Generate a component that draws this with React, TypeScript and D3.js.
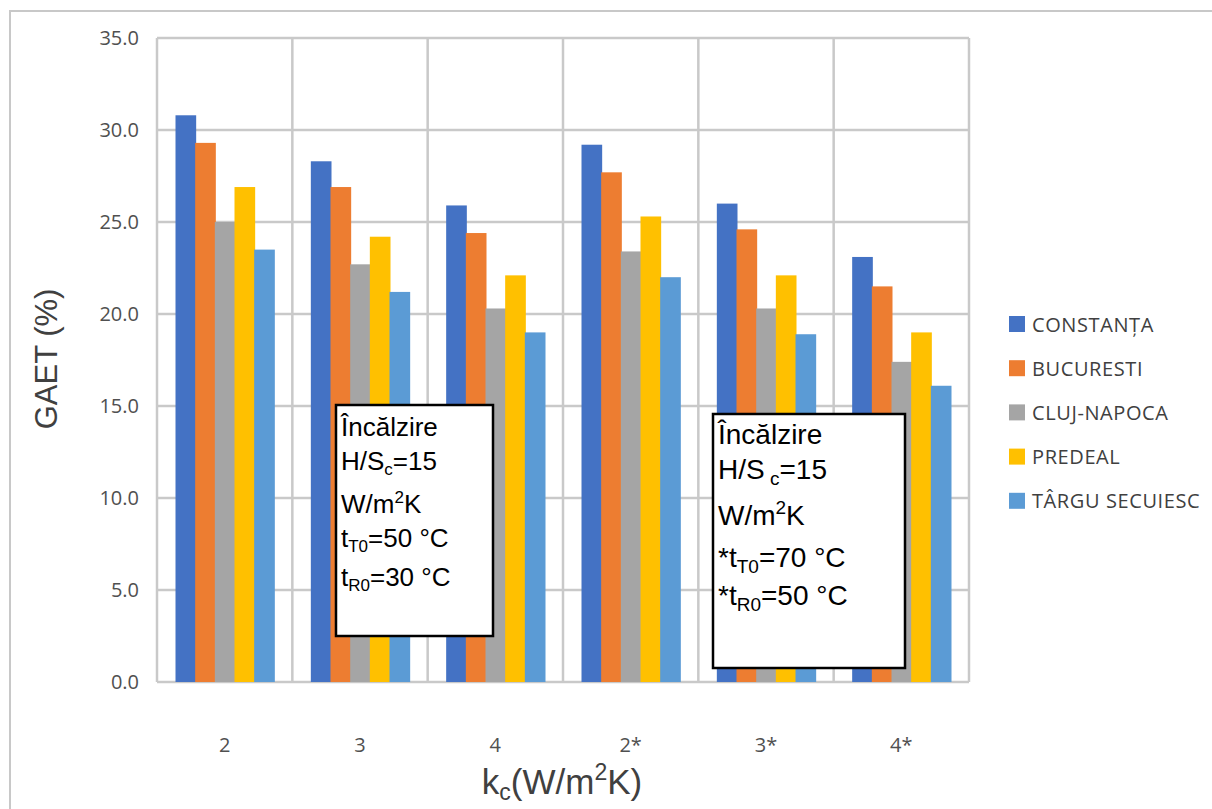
import React from "react";
import * as d3 from "d3";

const categories = ["2", "3", "4", "2*", "3*", "4*"];
const seriesNames = ["CONSTANȚA", "BUCURESTI", "CLUJ-NAPOCA", "PREDEAL", "TÂRGU SECUIESC"];
const constanta = [30.8, 28.3, 25.9, 29.2, 26.0, 23.1];
const bucuresti = [29.3, 26.9, 24.4, 27.7, 24.6, 21.5];
const cluj = [25.0, 22.7, 20.3, 23.4, 20.3, 17.4];
const predeal = [26.9, 24.2, 22.1, 25.3, 22.1, 19.0];
const targu = [23.5, 21.2, 19.0, 22.0, 18.9, 16.1];
const seriesValues = [constanta, bucuresti, cluj, predeal, targu];
const colors = ["#4472C4", "#ED7D31", "#A5A5A5", "#FFC000", "#5B9BD5"];
const yTicks = [0, 5, 10, 15, 20, 25, 30, 35];

const PL = 157, PR = 969, PT = 38, PB = 682;

export default function App() {
  const x = d3.scaleBand().domain(categories).range([PL, PR]).padding(0);
  const cw = x.bandwidth();
  const inner = d3.scaleBand().domain(seriesNames).range([18.5, cw - 18.5]).padding(0);
  const y = d3.scaleLinear().domain([0, 35]).range([PB, PT]);
  const grid = "#c9c9c9";
  const bounds = categories.map((c) => x(c) as number).concat([PR]);

  return (
    <svg width={1212} height={809} style={{ position: "absolute", left: 0, top: 0, background: "#fff" }}
      fontFamily="'Open Sans', sans-serif">
      <rect x={0} y={0} width={1212} height={809} fill="#fff" />
      <rect x={10} y={11} width={1240} height={830} fill="#fff" stroke="#c8c8c8" strokeWidth={2} />
      {yTicks.map((t) => (
        <line key={"h" + t} x1={PL} x2={PR} y1={y(t)} y2={y(t)} stroke={grid} strokeWidth={2.5} />
      ))}
      {bounds.map((b, i) => (
        <line key={"v" + i} x1={b} x2={b} y1={PT} y2={PB} stroke={grid} strokeWidth={2.5} />
      ))}
      {categories.map((c, ci) =>
        seriesNames.map((s, si) => {
          const v = seriesValues[si][ci];
          const bx = (x(c) as number) + (inner(s) as number);
          return (
            <rect key={c + s} x={bx} y={y(v)} width={inner.bandwidth() + 1} height={PB - y(v)} fill={colors[si]} />
          );
        })
      )}
      {yTicks.map((t) => (
        <text key={"yt" + t} x={139} y={y(t) + 7} textAnchor="end" fontSize={20} fill="#505050">
          {t.toFixed(1)}
        </text>
      ))}
      {categories.map((c) => (
        <text key={"xt" + c} x={(x(c) as number) + cw / 2} y={752} textAnchor="middle" fontSize={20} fill="#505050">
          {c}
        </text>
      ))}
      <text transform="translate(57,359) rotate(-90)" textAnchor="middle" fontSize={31}
        fontFamily="'Liberation Sans', Arial, sans-serif" fill="#404040">GAET (%)</text>
      <text x={562} y={794} textAnchor="middle" fontSize={35} fontFamily="'Liberation Sans', Arial, sans-serif" fill="#404040">
        k<tspan fontSize={23} dy={6}>c</tspan><tspan dy={-6}>(W/m</tspan><tspan fontSize={23} dy={-14}>2</tspan><tspan dy={14}>K)</tspan>
      </text>
      {seriesNames.map((s, i) => (
        <g key={"lg" + s} transform={`translate(0,${324 + i * 44.2})`}>
          <rect x={1009} y={-8} width={16} height={16} fill={colors[i]} />
          <text x={1032} y={7.5} fontSize={20} letterSpacing={0.6} fill="#404040">{s}</text>
        </g>
      ))}
      <g fontFamily="'Liberation Sans', Arial, sans-serif" fill="#000">
        <rect x={336} y={405} width={157} height={231} fill="#fff" stroke="#000" strokeWidth={2.5} />
        <text x={341} y={436} fontSize={26}>Încălzire</text>
        <text x={341} y={470} fontSize={26}>H/S<tspan fontSize={17} dy={5}>c</tspan><tspan dy={-5}>=15</tspan></text>
        <text x={341} y={513} fontSize={26}>W/m<tspan fontSize={17} dy={-10}>2</tspan><tspan dy={10}>K</tspan></text>
        <text x={341} y={547} fontSize={26}>t<tspan fontSize={17} dy={5}>T0</tspan><tspan dy={-5}>=50 °C</tspan></text>
        <text x={341} y={586} fontSize={26}>t<tspan fontSize={17} dy={5}>R0</tspan><tspan dy={-5}>=30 °C</tspan></text>

        <rect x={713} y={414} width={192} height={254} fill="#fff" stroke="#000" strokeWidth={2.5} />
        <text x={718} y={444} fontSize={28}>Încălzire</text>
        <text x={718} y={479} fontSize={28}>H/S<tspan fontSize={19} dy={6}> c</tspan><tspan dy={-6}>=15</tspan></text>
        <text x={718} y={525} fontSize={28}>W/m<tspan fontSize={19} dy={-11}>2</tspan><tspan dy={11}>K</tspan></text>
        <text x={718} y={567} fontSize={28}>*t<tspan fontSize={19} dy={6}>T0</tspan><tspan dy={-6}>=70 °C</tspan></text>
        <text x={718} y={605} fontSize={28}>*t<tspan fontSize={19} dy={6}>R0</tspan><tspan dy={-6}>=50 °C</tspan></text>
      </g>
    </svg>
  );
}
